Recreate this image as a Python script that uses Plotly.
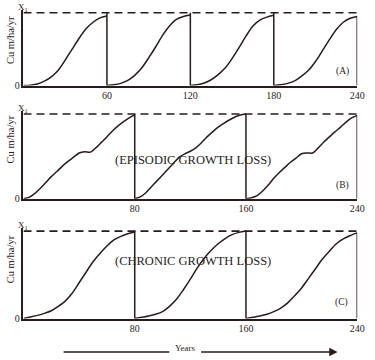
import plotly.graph_objects as go

# ---------------- data ----------------
# Panel A: 60-year rotations, fraction of X1
a_years = [0, 5, 10, 15, 20, 25, 30, 35, 40, 45, 50, 55, 60]
a_cycle1 = [0, 0.005, 0.02, 0.06, 0.12, 0.21, 0.35, 0.50, 0.65, 0.78, 0.87, 0.93, 0.955]
a_cycle2 = [0, 0.01, 0.03, 0.07, 0.14, 0.24, 0.38, 0.53, 0.69, 0.82, 0.91, 0.95, 0.97]
a_cycle3 = [0, 0.01, 0.035, 0.08, 0.15, 0.24, 0.37, 0.52, 0.68, 0.82, 0.90, 0.94, 0.965]
a_cycle4 = [0, 0.01, 0.03, 0.065, 0.13, 0.21, 0.33, 0.48, 0.63, 0.77, 0.87, 0.925, 0.95]
a_starts = [0, 60, 120, 180]
a_ticks = [60, 120, 180, 240]

# Panel B: 80-year rotations, episodic growth loss
b_years = [0, 4, 8, 12, 16, 20, 24, 28, 32, 36, 40, 44, 48, 52, 56, 60, 64, 68, 72, 76, 80]
b_cycle1 = [0, 0.015, 0.06, 0.12, 0.19, 0.26, 0.32, 0.385, 0.44, 0.49, 0.54, 0.555, 0.55,
            0.60, 0.665, 0.73, 0.80, 0.86, 0.91, 0.955, 0.99]
b_cycle2 = [0, 0.02, 0.07, 0.14, 0.21, 0.28, 0.35, 0.42, 0.49, 0.53, 0.56, 0.60, 0.66,
            0.73, 0.79, 0.845, 0.89, 0.93, 0.965, 0.99, 1.0]
b_cycle3 = [0, 0.01, 0.035, 0.09, 0.16, 0.24, 0.31, 0.37, 0.43, 0.48, 0.53, 0.54, 0.54,
            0.60, 0.67, 0.73, 0.79, 0.845, 0.905, 0.955, 0.985]
b_starts = [0, 80, 160]
b_ticks = [80, 160, 240]

# Panel C: 80-year rotations, chronic growth loss
c_years = [0, 5, 10, 15, 20, 25, 30, 35, 40, 45, 50, 55, 60, 65, 70, 75, 80]
c_cycle1 = [0, 0.018, 0.037, 0.06, 0.09, 0.14, 0.20, 0.29, 0.41, 0.53, 0.65, 0.745, 0.83,
            0.90, 0.94, 0.97, 0.99]
c_cycle2 = [0, 0.015, 0.03, 0.05, 0.08, 0.14, 0.22, 0.33, 0.45, 0.58, 0.69, 0.78, 0.855,
            0.915, 0.96, 0.985, 1.0]
c_cycle3 = [0, 0.015, 0.03, 0.05, 0.08, 0.12, 0.18, 0.26, 0.35, 0.46, 0.57, 0.68, 0.77,
            0.855, 0.91, 0.95, 0.98]
c_starts = [0, 80, 160]
c_ticks = [80, 160, 240]

x1_level = 1.0
x_max = 240

panel_labels = ["(A)", "(B)", "(C)"]
center_texts = ["", "(EPISODIC GROWTH LOSS)", "(CHRONIC GROWTH LOSS)"]
y_title = "Cu m/ha/yr"
x_title = "Years"

# ---------------- styling ----------------
W, H = 375, 360
INK = "#2a1c1c"
FONT = "Liberation Serif"


def px(x):
    return x / W


def py(y):
    return 1 - y / H


# pixel geometry of each panel: (dashed-line y, baseline y)
panels_px = [(13, 87), (116, 202), (235, 324)]
YMAX = 1.04

fig = go.Figure()

panels = [
    (a_years, [a_cycle1, a_cycle2, a_cycle3, a_cycle4], a_starts, a_ticks),
    (b_years, [b_cycle1, b_cycle2, b_cycle3], b_starts, b_ticks),
    (c_years, [c_cycle1, c_cycle2, c_cycle3], c_starts, c_ticks),
]

for i, (yrs, cycles, starts, ticks) in enumerate(panels):
    xa = "x" if i == 0 else f"x{i+1}"
    ya = "y" if i == 0 else f"y{i+1}"
    # dashed X1 line
    fig.add_trace(go.Scatter(x=[0, x_max], y=[x1_level, x1_level], mode="lines",
                             line=dict(color=INK, width=1.6, dash="8px,5px"),
                             xaxis=xa, yaxis=ya, hoverinfo="skip", showlegend=False))
    for k, (s, vals) in enumerate(zip(starts, cycles)):
        xs = [s + t for t in yrs]
        fig.add_trace(go.Scatter(x=xs, y=vals, mode="lines",
                                 line=dict(color=INK, width=1.5, shape="spline", smoothing=0.8),
                                 xaxis=xa, yaxis=ya, showlegend=False))
        end = s + yrs[-1]
        top = x1_level if end < x_max else vals[-1]
        fig.add_trace(go.Scatter(x=[end, end], y=[0, top], mode="lines",
                                 line=dict(color=INK, width=1.5),
                                 xaxis=xa, yaxis=ya, hoverinfo="skip", showlegend=False))

    top_px, base_px = panels_px[i]
    unit = base_px - top_px
    dom_top = top_px - (YMAX - 1) * unit
    fig.layout[("xaxis" if i == 0 else f"xaxis{i+1}")] = dict(
        domain=[px(24), px(365)], range=[0, x_max], anchor=ya,
        showline=True, linecolor=INK, linewidth=1.6, showgrid=False, zeroline=False,
        ticks="", tickvals=ticks, ticktext=[str(t) for t in ticks],
        tickfont=dict(family=FONT, size=10, color=INK), fixedrange=True)
    fig.layout[("yaxis" if i == 0 else f"yaxis{i+1}")] = dict(
        domain=[py(base_px), py(dom_top)], range=[0, YMAX], anchor=xa,
        showline=True, linecolor=INK, linewidth=1.6, showgrid=False, zeroline=False,
        ticks="", tickvals=[0], ticktext=["0"],
        tickfont=dict(family=FONT, size=10, color=INK), fixedrange=True)

annotations = []
# X1 labels above axis tops
for i in range(3):
    ya = "y" if i == 0 else f"y{i+1}"
    xa = "x" if i == 0 else f"x{i+1}"
    annotations.append(dict(x=0, y=x1_level, xref=xa, yref=ya, text="X<sub>1</sub>",
                            showarrow=False, xanchor="center", yanchor="bottom",
                            yshift=-2, font=dict(family=FONT, size=9, color=INK)))
# y titles
for cy in [41, 142, 264]:
    annotations.append(dict(x=px(11), y=py(cy), xref="paper", yref="paper", text=y_title,
                            textangle=-90, showarrow=False, xanchor="center", yanchor="middle",
                            font=dict(family=FONT, size=10.5, color=INK)))
# panel letters
for lab, (lx, ly) in zip(panel_labels, [(350, 73), (350, 189), (349, 308)]):
    annotations.append(dict(x=px(lx), y=py(ly), xref="paper", yref="paper", text=lab,
                            showarrow=False, xanchor="center", yanchor="middle",
                            font=dict(family=FONT, size=9.5, color=INK)))
# centre texts
for txt, (cx, cy) in zip(center_texts, [(0, 0), (197, 163), (197, 265)]):
    if txt:
        annotations.append(dict(x=px(cx), y=py(cy), xref="paper", yref="paper", text=txt,
                                showarrow=False, xanchor="center", yanchor="middle",
                                font=dict(family=FONT, size=12.5, color=INK)))
# Years label and arrows
annotations.append(dict(x=px(190), y=py(354), xref="paper", yref="paper", text=x_title,
                        showarrow=False, xanchor="center", yanchor="middle",
                        font=dict(family=FONT, size=9, color=INK)))
annotations.append(dict(x=px(345), y=py(358), ax=-138, ay=0,
                        xref="paper", yref="paper", axref="pixel", ayref="pixel",
                        text="", showarrow=True, arrowhead=2, arrowsize=1.2, arrowwidth=1.4,
                        arrowcolor=INK))

shapes = [dict(type="line", xref="paper", yref="paper", x0=px(65), x1=px(173),
               y0=py(358), y1=py(358), line=dict(color=INK, width=1.4))]

fig.update_layout(width=W, height=H, margin=dict(l=0, r=0, t=0, b=0),
                  paper_bgcolor="white", plot_bgcolor="white",
                  annotations=annotations, shapes=shapes, showlegend=False,
                  font=dict(family=FONT, color=INK))

fig.write_html("out.html", config={"displayModeBar": False},
               post_script="document.body.style.margin='0px';document.body.style.overflow='hidden';")
